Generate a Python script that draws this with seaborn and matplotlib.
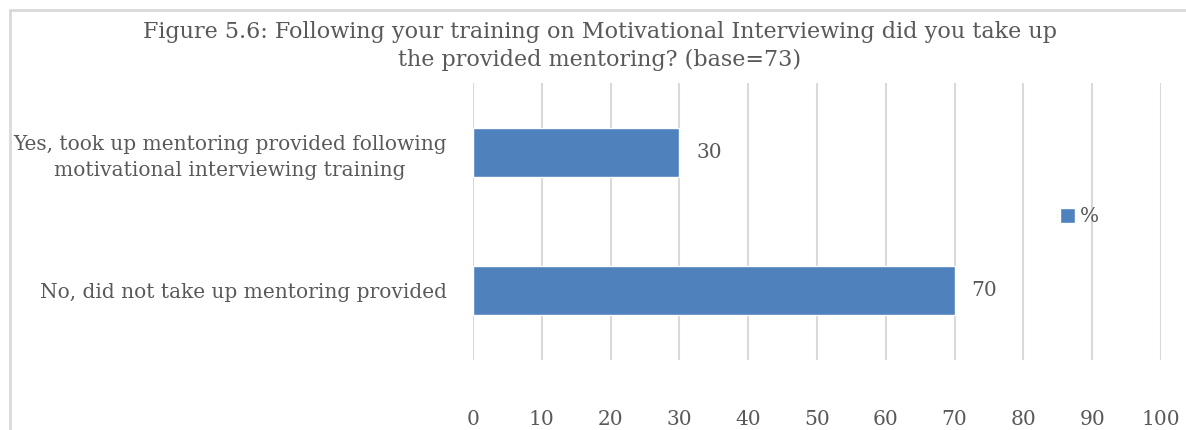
import pandas as pd
import matplotlib
matplotlib.use("Agg")
import matplotlib.pyplot as plt
import seaborn as sns
from matplotlib.patches import Rectangle

categories = [
    "Yes, took up mentoring provided following\nmotivational interviewing training",
    "No, did not take up mentoring provided",
]
values = [30, 70]
series_name = "%"
title = ("Figure 5.6: Following your training on Motivational Interviewing did you take up\n"
         "the provided mentoring? (base=73)")
x_ticks = list(range(0, 101, 10))

sns.set_theme(style="white")
plt.rcParams["font.family"] = ["DejaVu Serif"]

text_col = "#595959"
grid_col = "#d9d9d9"
bar_col = "#4f81bd"

df = pd.DataFrame({"cat": categories, "val": values, "series": [series_name] * len(values)})

W, H = 1186, 430
fig = plt.figure(figsize=(W / 100, H / 100), dpi=100)
ax = fig.add_axes([473 / W, 1 - 360 / H, (1161 - 473) / W, (360 - 83) / H])

sns.barplot(data=df, x="val", y="cat", hue="series", palette=[bar_col],
            orient="h", width=0.355, saturation=1, ax=ax, legend=True)

ax.set_xlim(0, 100)
ax.set_xticks(x_ticks)
ax.xaxis.grid(True, color=grid_col, linewidth=1.5)
ax.set_axisbelow(True)
for s in ax.spines.values():
    s.set_visible(False)
ax.set_xlabel("")
ax.set_ylabel("")
ax.tick_params(axis="x", length=0, pad=36, labelsize=14.5, labelcolor=text_col)
ax.tick_params(axis="y", length=0, pad=19, labelsize=14.5, labelcolor=text_col)
for lbl in ax.get_yticklabels():
    lbl.set_multialignment("center")
    lbl.set_linespacing(1.45)

for c in ax.containers:
    ax.bar_label(c, padding=12, fontsize=14.5, color=text_col)

leg = ax.legend(loc="center left", bbox_to_anchor=((1052 - 473) / (1161 - 473), 1 - (217 - 83) / (360 - 83)),
                frameon=False, fontsize=14.5, handlelength=0.72, handleheight=0.72,
                handletextpad=0.25, borderaxespad=0)
for t in leg.get_texts():
    t.set_color(text_col)

fig.text(600 / W, 1 - 46 / H, title, ha="center", va="center", fontsize=16,
         color=text_col, linespacing=1.4)

fig.patches.append(Rectangle((9.5 / W, -0.1), 1.2, 1.1 - 10.5 / H, transform=fig.transFigure,
                             fill=False, edgecolor=grid_col, linewidth=2))

fig.savefig("out.png", dpi=100)
